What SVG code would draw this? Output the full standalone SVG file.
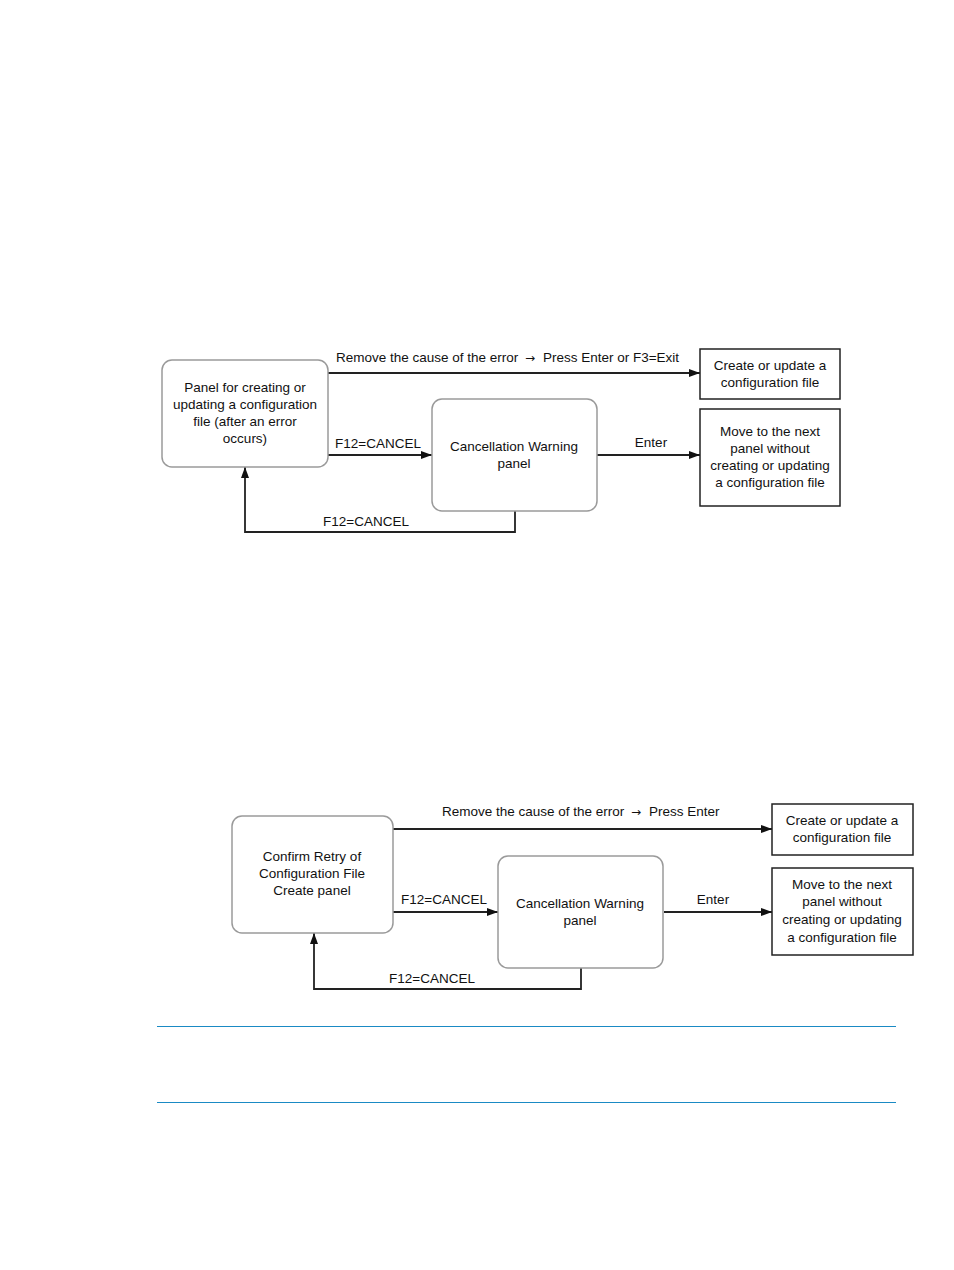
<svg xmlns="http://www.w3.org/2000/svg" width="954" height="1270" viewBox="0 0 954 1270">
<style>
.r{fill:#fff;stroke:#9a9a9a;stroke-width:1.5}
.b{fill:#fff;stroke:#222;stroke-width:1.5}
.c{fill:none;stroke:#222;stroke-width:1.8}
text{font-family:"Liberation Sans",Arial,sans-serif;font-size:13.5px;fill:#111}
.m{text-anchor:middle}
.ar{font-family:"DejaVu Sans",sans-serif;font-size:12px}
.rule{stroke:#1a8ac4;stroke-width:1.2}
</style>
<defs>
<marker id="ah" viewBox="0 0 11 9" refX="11" refY="4.5" markerWidth="11" markerHeight="9" orient="auto" markerUnits="userSpaceOnUse">
<path d="M0,0.5 L11,4.5 L0,8.5 z" fill="#111"/>
</marker>
</defs>
<rect width="954" height="1270" fill="#fff"/>

<g id="d1-connectors">
<path class="c" d="M328,373 H700" marker-end="url(#ah)"/>
<path class="c" d="M328,455 H432" marker-end="url(#ah)"/>
<path class="c" d="M597,455 H700" marker-end="url(#ah)"/>
<path class="c" d="M515,511 V532 H245 V467" marker-end="url(#ah)"/>
<text x="336" y="362">Remove the cause of the error <tspan class="ar" dx="3">→</tspan><tspan dx="4"> Press Enter or F3=Exit</tspan></text>
<text x="335" y="448">F12=CANCEL</text>
<text class="m" x="651" y="447">Enter</text>
<text x="323" y="526">F12=CANCEL</text>
</g>
<g id="d1-panel">
<rect class="r" x="162" y="360" width="166" height="107" rx="10"/>
<text class="m" x="245" y="392">Panel for creating or</text>
<text class="m" x="245" y="409">updating a configuration</text>
<text class="m" x="245" y="426">file (after an error</text>
<text class="m" x="245" y="443">occurs)</text>
</g>
<g id="d1-cancel">
<rect class="r" x="432" y="399" width="165" height="112" rx="10"/>
<text class="m" x="514" y="451">Cancellation Warning</text>
<text class="m" x="514" y="468">panel</text>
</g>
<g id="d1-create">
<rect class="b" x="700" y="349" width="140" height="50"/>
<text class="m" x="770" y="370">Create or update a</text>
<text class="m" x="770" y="387">configuration file</text>
</g>
<g id="d1-move">
<rect class="b" x="700" y="409" width="140" height="97"/>
<text class="m" x="770" y="436">Move to the next</text>
<text class="m" x="770" y="453">panel without</text>
<text class="m" x="770" y="470">creating or updating</text>
<text class="m" x="770" y="487">a configuration file</text>
</g>

<g id="d2-connectors">
<path class="c" d="M393,829 H772" marker-end="url(#ah)"/>
<path class="c" d="M393,912 H498" marker-end="url(#ah)"/>
<path class="c" d="M664,912 H772" marker-end="url(#ah)"/>
<path class="c" d="M581,968 V989 H314 V933" marker-end="url(#ah)"/>
<text x="442" y="816">Remove the cause of the error <tspan class="ar" dx="3">→</tspan><tspan dx="4"> Press Enter</tspan></text>
<text x="401" y="904">F12=CANCEL</text>
<text class="m" x="713" y="904">Enter</text>
<text x="389" y="983">F12=CANCEL</text>
</g>
<g id="d2-confirm">
<rect class="r" x="232" y="816" width="161" height="117" rx="10"/>
<text class="m" x="312" y="861">Confirm Retry of</text>
<text class="m" x="312" y="878">Configuration File</text>
<text class="m" x="312" y="895">Create panel</text>
</g>
<g id="d2-cancel">
<rect class="r" x="498" y="856" width="165" height="112" rx="10"/>
<text class="m" x="580" y="908">Cancellation Warning</text>
<text class="m" x="580" y="925">panel</text>
</g>
<g id="d2-create">
<rect class="b" x="772" y="804" width="141" height="51"/>
<text class="m" x="842" y="825">Create or update a</text>
<text class="m" x="842" y="842">configuration file</text>
</g>
<g id="d2-move">
<rect class="b" x="772" y="868" width="141" height="87"/>
<text class="m" x="842" y="889">Move to the next</text>
<text class="m" x="842" y="906">panel without</text>
<text class="m" x="842" y="924">creating or updating</text>
<text class="m" x="842" y="942">a configuration file</text>
</g>

<g id="note-rules">
<line class="rule" x1="157" y1="1026.5" x2="896" y2="1026.5"/>
<line class="rule" x1="157" y1="1102.5" x2="896" y2="1102.5"/>
</g>
</svg>
